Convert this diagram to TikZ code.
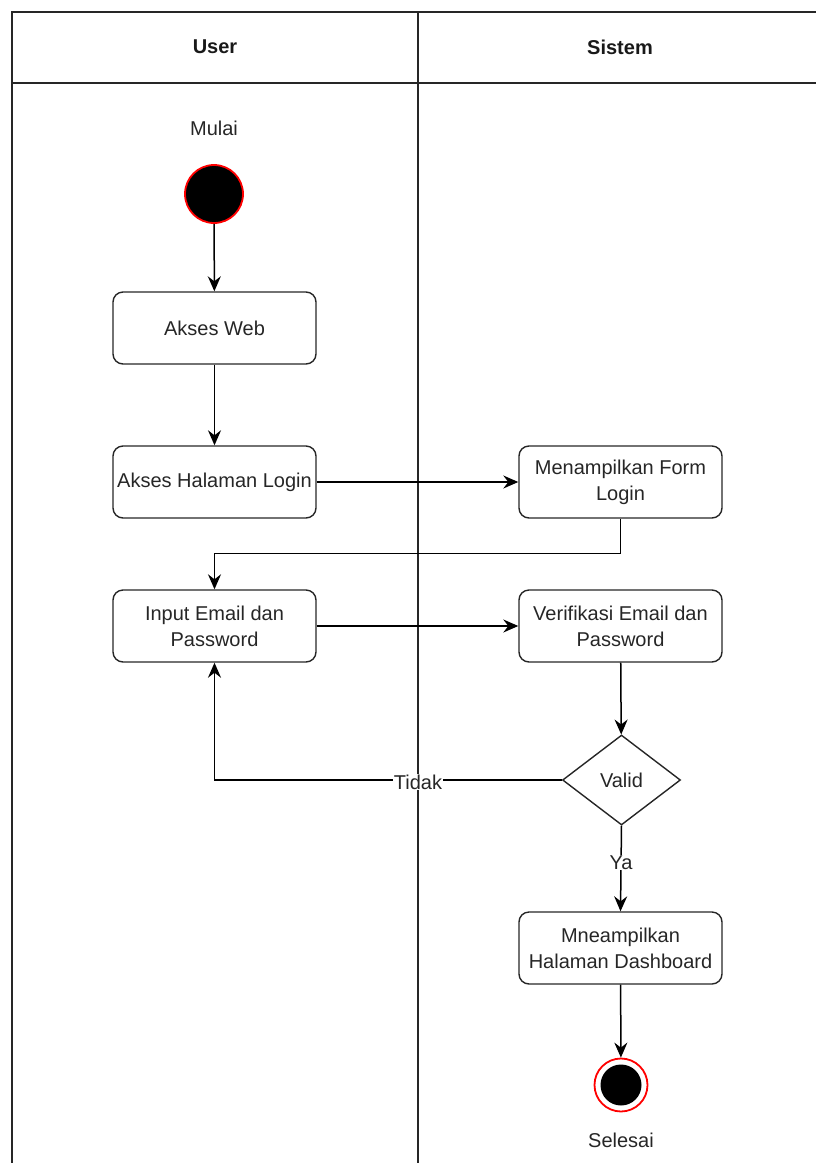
\documentclass[tikz,border=0pt]{standalone}
\usepackage{fontspec}
\setmainfont{Liberation Sans}
\usetikzlibrary{arrows.meta,shapes.geometric}
\begin{document}
\begin{tikzpicture}[x=1pt,y=-1pt,
  lane/.style={draw=black!85, line width=1.6pt},
  txt/.style={font=\fontsize{20}{26}\selectfont, text=black!85, align=center},
  act/.style={txt, draw=black!85, line width=1.4pt, rounded corners=10pt,
    minimum width=203pt, minimum height=72pt, inner sep=2pt},
  decision/.style={txt, diamond, draw=black!85, line width=1.4pt,
    minimum width=118pt, minimum height=90pt, inner sep=0pt},
  flow/.style={draw=black, line width=1.5pt,
    -{Stealth[length=15pt,width=13pt,inset=5pt]}},
  lbl/.style={txt, fill=white, inner sep=1pt},
  head/.style={font=\fontsize{20}{24}\selectfont\bfseries, text=black!90}
]
\useasboundingbox (0,0) rectangle (816,1163);

% swimlane frame
\draw[lane] (12,1163) -- (12,12) -- (816,12);
\draw[lane] (12,83) -- (816,83);
\draw[lane] (418,12) -- (418,1163);
\node[head] (hUser) at (215,47) {User};
\node[head] (hSistem) at (620,47) {Sistem};

% start / end
\node[txt] (mulai) at (214,128) {Mulai};
\node[circle, fill=black, draw=red, line width=1.8pt, minimum size=58pt, inner sep=0pt] (start) at (214,194) {};
\node[circle, draw=red, line width=1.8pt, minimum size=53pt, inner sep=0pt] (end) at (621,1085) {};
\node[circle, fill=black, minimum size=41pt, inner sep=0pt] (endcore) at (end.center) {};
\node[txt] (selesai) at (621,1140) {Selesai};

% activities
\node[act] (web) at (214.5,328) {Akses Web};
\node[act] (login) at (214.5,482) {Akses Halaman Login};
\node[act] (form) at (620.5,482) {Menampilkan Form\\Login};
\node[act] (input) at (214.5,626) {Input Email dan\\Password};
\node[act] (verif) at (620.5,626) {Verifikasi Email dan\\Password};
\node[decision] (valid) at (621.5,780) {Valid};
\node[act] (dash) at (620.5,948) {Mneampilkan\\Halaman Dashboard};

% control flow
\draw[flow] (start) -- (web);
\draw[flow] (web) -- (login);
\draw[flow] (login) -- (form);
\draw[flow] (form.south) -- ++(0,35) -| (input.north);
\draw[flow] (input) -- (verif);
\draw[flow] (verif) -- (valid);
\draw[flow] (valid.west) -| (input.south);
\node[lbl] (tidak) at (418,782) {Tidak};
\draw[flow] (valid.south) -- node[lbl, pos=0.43] (ya) {Ya} (dash.north);
\draw[flow] (dash) -- (end);
\end{tikzpicture}
\end{document}
